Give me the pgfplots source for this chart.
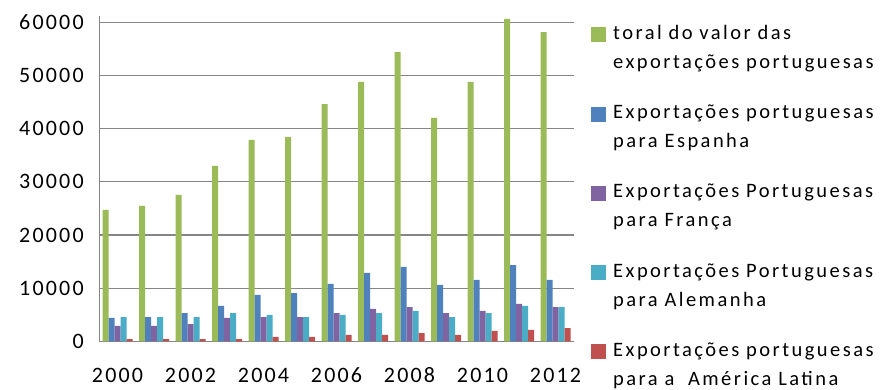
\documentclass[border=0pt]{standalone}
\usepackage{fontspec}
\setmainfont{Carlito}
\newfontfamily\tickfont[LetterSpace=10]{Carlito}
\newfontfamily\legfont[LetterSpace=12]{Carlito}
\usepackage{pgfplots}
\pgfplotsset{compat=1.18}
\definecolor{cgreen}{HTML}{9BBB59}
\definecolor{cblue}{HTML}{4F81BD}
\definecolor{cpurple}{HTML}{8064A2}
\definecolor{ccyan}{HTML}{4BACC6}
\definecolor{cred}{HTML}{C0504D}
\definecolor{gridgray}{RGB}{134,134,134}
\begin{document}
\begin{tikzpicture}
\useasboundingbox (0,0) rectangle (882bp,390bp);
\begin{axis}[
  at={(99.25bp,48.7bp)}, anchor=south west,
  scale only axis, width=474.5bp, height=325.4bp,
  xmin=-0.5, xmax=12.5, ymin=0, ymax=61200,
  ybar=0pt, bar width=6bp,
  axis lines*=left,
  axis line style={draw=gridgray, line width=1.2bp},
  ymajorgrids, grid style={draw=gridgray, line width=1.2bp},
  xtick={0,2,...,12},
  xticklabels={2000,2002,2004,2006,2008,2010,2012},
  ytick={0,10000,...,60000},
  major tick length=0pt,
  scaled y ticks=false,
  /pgf/number format/1000 sep={},
  /pgf/number format/assume math mode=true,
  tick label style={font=\tickfont\fontsize{22bp}{26bp}\selectfont, text=black},
  xticklabel style={yshift=-23bp},
  yticklabel style={xshift=-12bp},
  legend cell align=left,
  legend style={at={(1.0364,0.9718)}, anchor=north west, draw=none, fill=none,
    inner sep=0pt, column sep=7bp,
    nodes={font=\legfont\fontsize{20.5bp}{29bp}\selectfont, text width=265bp, align=left, inner sep=0pt, text depth=65.5bp}},
  legend image code/.code={\fill[#1] (0bp,23bp) rectangle (15bp,38bp);},
]
\addplot[fill=cgreen, draw=none] coordinates {(0,24700) (1,25450) (2,27520) (3,32970) (4,37860) (5,38430) (6,44630) (7,48770) (8,54410) (9,42000) (10,48770) (11,60620) (12,58170)};
\addplot[fill=cblue, draw=none] coordinates {(0,4390) (1,4570) (2,5320) (3,6640) (4,8710) (5,9080) (6,10780) (7,12850) (8,13980) (9,10590) (10,11530) (11,14350) (12,11530)};
\addplot[fill=cpurple, draw=none] coordinates {(0,2880) (1,2880) (2,3250) (3,4390) (4,4570) (5,4570) (6,5320) (7,6080) (8,6450) (9,5320) (10,5700) (11,7020) (12,6450)};
\addplot[fill=ccyan, draw=none] coordinates {(0,4570) (1,4570) (2,4570) (3,5320) (4,4950) (5,4570) (6,4950) (7,5320) (8,5700) (9,4570) (10,5320) (11,6640) (12,6450)};
\addplot[fill=cred, draw=none] coordinates {(0,430) (1,430) (2,430) (3,430) (4,810) (5,810) (6,1190) (7,1190) (8,1560) (9,1190) (10,1940) (11,2130) (12,2500)};
\addlegendentry{toral do valor das\\exportações portuguesas}
\addlegendentry{Exportações portuguesas\\para Espanha}
\addlegendentry{Exportações Portuguesas\\para França}
\addlegendentry{Exportações Portuguesas\\para Alemanha}
\addlegendentry{Exportações portuguesas\\para a\ \ América Latina}
\end{axis}
\end{tikzpicture}
\end{document}
